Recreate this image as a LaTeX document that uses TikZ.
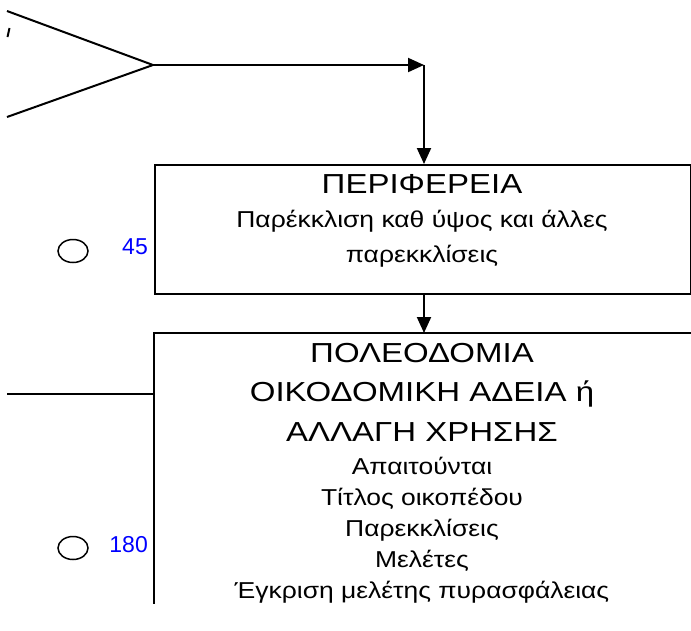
\documentclass[tikz,border=0pt]{standalone}
\usepackage{fontspec}
\setmainfont{Liberation Sans}
\newfontfamily\bigfont[FakeStretch=1.2]{Liberation Sans}
\newfontfamily\smallfont[FakeStretch=1.15]{Liberation Sans}
\usetikzlibrary{arrows.meta,shapes.geometric}
\definecolor{numblue}{RGB}{0,0,255}
\begin{document}
\begin{tikzpicture}[x=1pt,y=-1pt,
  ln/.style={line width=2pt,black},
  arr/.style={ln,-{Triangle[length=16pt,width=14pt]}},
  big/.style={font=\bigfont\fontsize{27.5}{30}\selectfont,inner sep=0pt,anchor=base},
  small/.style={font=\smallfont\fontsize{23}{26}\selectfont,inner sep=0pt,anchor=base},
  num/.style={font=\fontsize{23}{26}\selectfont,text=numblue,inner sep=0pt,anchor=base east},
  oval/.style={draw,line width=1.5pt,ellipse,minimum width=30pt,minimum height=23pt,inner sep=0pt}]
\useasboundingbox (0,0) rectangle (691,630);
\clip (0,0) rectangle (691,630);
% merging lines
\coordinate (a1) at (7,11);
\coordinate (a2) at (7,117);
\coordinate (v) at (153,65);
\coordinate (c) at (424,65);
\draw[ln] (a1) -- (v) -- (a2);
\draw[ln] (9.5,28) -- (7.5,37);
\draw[arr] (v) -- (c);
% box 1
\node[draw,line width=2pt,minimum width=536pt,minimum height=129pt,inner sep=0pt,anchor=north west] (b1) at (154,164) {};
\node[big] (t1) at (422,193) {ΠΕΡΙΦΕΡΕΙΑ};
\node[small] (t2) at (422,227) {Παρέκκλιση καθ ύψος και άλλες};
\node[small] (t3) at (422,262) {παρεκκλίσεις};
\draw[arr] (c) -- (c |- b1.north);
% box 2 (clipped)
\coordinate (b2tl) at (154,333);
\coordinate (b2tr) at (700,333);
\coordinate (b2bl) at (154,604);
\draw[ln] (b2tr) -- (b2tl) -- (b2bl);
\draw[arr] (b1.south -| c) -- (c |- b2tl);
\node[big] (u1) at (422,362) {ΠΟΛΕΟΔΟΜΙΑ};
\node[big] (u2) at (422,401) {ΟΙΚΟΔΟΜΙΚΗ ΑΔΕΙΑ ή};
\node[big] (u3) at (422,441) {ΑΛΛΑΓΗ ΧΡΗΣΗΣ};
\node[small] (u4) at (422,474) {Απαιτούνται};
\node[small] (u5) at (422,505) {Τίτλος οικοπέδου};
\node[small] (u6) at (422,536) {Παρεκκλίσεις};
\node[small] (u7) at (422,567) {Μελέτες};
\node[small] (u8) at (422,598) {Έγκριση μελέτης πυρασφάλειας};
% side line
\coordinate (s) at (7,394);
\draw[ln] (s) -- (s -| b2tl);
% ovals and numbers
\node[oval] (o1) at (73,251) {};
\node[num] (n1) at (148,254) {45};
\node[oval] (o2) at (73,548) {};
\node[num] (n2) at (148,552) {180};
\end{tikzpicture}
\end{document}
